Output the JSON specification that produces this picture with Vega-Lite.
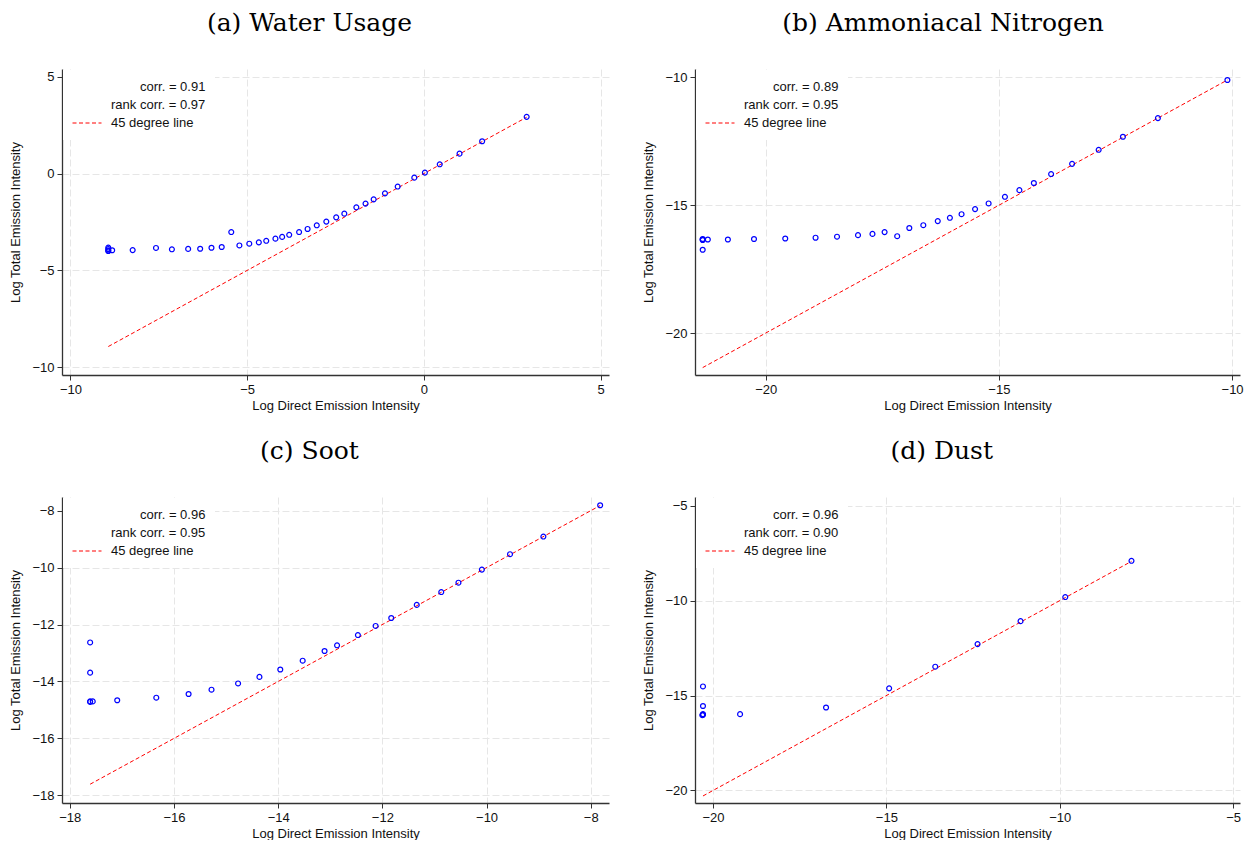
{
  "$schema": "https://vega.github.io/schema/vega-lite/v6.json",
  "background": "white",
  "padding": {"left": 9, "top": 11, "right": 0, "bottom": 0},
  "datasets": {
    "pts": [
      {"p":"a","x":-8.93,"y":-3.82},{"p":"a","x":-8.93,"y":-3.90},{"p":"a","x":-8.93,"y":-3.97},{"p":"a","x":-8.93,"y":-4.00},{"p":"a","x":-8.82,"y":-3.96},{"p":"a","x":-8.24,"y":-3.95},{"p":"a","x":-7.58,"y":-3.84},{"p":"a","x":-7.13,"y":-3.91},{"p":"a","x":-6.67,"y":-3.89},{"p":"a","x":-6.33,"y":-3.88},{"p":"a","x":-6.01,"y":-3.83},{"p":"a","x":-5.72,"y":-3.79},{"p":"a","x":-5.45,"y":-3.02},{"p":"a","x":-5.22,"y":-3.71},{"p":"a","x":-4.94,"y":-3.62},{"p":"a","x":-4.67,"y":-3.55},{"p":"a","x":-4.46,"y":-3.47},{"p":"a","x":-4.20,"y":-3.36},{"p":"a","x":-4.01,"y":-3.27},{"p":"a","x":-3.81,"y":-3.16},{"p":"a","x":-3.53,"y":-3.02},{"p":"a","x":-3.29,"y":-2.86},{"p":"a","x":-3.03,"y":-2.67},{"p":"a","x":-2.76,"y":-2.48},{"p":"a","x":-2.48,"y":-2.26},{"p":"a","x":-2.25,"y":-2.07},{"p":"a","x":-1.91,"y":-1.74},{"p":"a","x":-1.65,"y":-1.55},{"p":"a","x":-1.42,"y":-1.33},{"p":"a","x":-1.10,"y":-1.02},{"p":"a","x":-0.74,"y":-0.67},{"p":"a","x":-0.27,"y":-0.21},{"p":"a","x":0.03,"y":0.05},{"p":"a","x":0.45,"y":0.48},{"p":"a","x":1.01,"y":1.03},{"p":"a","x":1.65,"y":1.67},{"p":"a","x":2.91,"y":2.93},
      {"p":"b","x":-21.35,"y":-16.32},{"p":"b","x":-21.35,"y":-16.34},{"p":"b","x":-21.35,"y":-16.36},{"p":"b","x":-21.35,"y":-16.74},{"p":"b","x":-21.24,"y":-16.34},{"p":"b","x":-20.81,"y":-16.34},{"p":"b","x":-20.25,"y":-16.32},{"p":"b","x":-19.58,"y":-16.30},{"p":"b","x":-18.93,"y":-16.27},{"p":"b","x":-18.47,"y":-16.23},{"p":"b","x":-18.02,"y":-16.17},{"p":"b","x":-17.71,"y":-16.12},{"p":"b","x":-17.45,"y":-16.05},{"p":"b","x":-17.18,"y":-16.21},{"p":"b","x":-16.92,"y":-15.89},{"p":"b","x":-16.62,"y":-15.78},{"p":"b","x":-16.31,"y":-15.62},{"p":"b","x":-16.05,"y":-15.49},{"p":"b","x":-15.80,"y":-15.35},{"p":"b","x":-15.51,"y":-15.15},{"p":"b","x":-15.22,"y":-14.93},{"p":"b","x":-14.87,"y":-14.67},{"p":"b","x":-14.56,"y":-14.41},{"p":"b","x":-14.25,"y":-14.13},{"p":"b","x":-13.88,"y":-13.78},{"p":"b","x":-13.43,"y":-13.38},{"p":"b","x":-12.86,"y":-12.83},{"p":"b","x":-12.34,"y":-12.32},{"p":"b","x":-11.59,"y":-11.59},{"p":"b","x":-10.10,"y":-10.10},
      {"p":"c","x":-17.61,"y":-12.63},{"p":"c","x":-17.61,"y":-13.69},{"p":"c","x":-17.61,"y":-14.70},{"p":"c","x":-17.61,"y":-14.72},{"p":"c","x":-17.56,"y":-14.70},{"p":"c","x":-17.09,"y":-14.66},{"p":"c","x":-16.34,"y":-14.57},{"p":"c","x":-15.72,"y":-14.44},{"p":"c","x":-15.28,"y":-14.29},{"p":"c","x":-14.77,"y":-14.07},{"p":"c","x":-14.36,"y":-13.84},{"p":"c","x":-13.96,"y":-13.58},{"p":"c","x":-13.53,"y":-13.27},{"p":"c","x":-13.11,"y":-12.93},{"p":"c","x":-12.87,"y":-12.73},{"p":"c","x":-12.47,"y":-12.37},{"p":"c","x":-12.13,"y":-12.05},{"p":"c","x":-11.83,"y":-11.77},{"p":"c","x":-11.34,"y":-11.31},{"p":"c","x":-10.87,"y":-10.86},{"p":"c","x":-10.54,"y":-10.53},{"p":"c","x":-10.09,"y":-10.07},{"p":"c","x":-9.55,"y":-9.53},{"p":"c","x":-8.91,"y":-8.91},{"p":"c","x":-7.82,"y":-7.81},
      {"p":"d","x":-20.29,"y":-14.52},{"p":"d","x":-20.29,"y":-15.55},{"p":"d","x":-20.29,"y":-16.01},{"p":"d","x":-20.29,"y":-15.98},{"p":"d","x":-20.31,"y":-16.03},{"p":"d","x":-19.22,"y":-15.98},{"p":"d","x":-16.74,"y":-15.63},{"p":"d","x":-14.92,"y":-14.62},{"p":"d","x":-13.59,"y":-13.48},{"p":"d","x":-12.37,"y":-12.29},{"p":"d","x":-11.13,"y":-11.08},{"p":"d","x":-9.84,"y":-9.81},{"p":"d","x":-7.93,"y":-7.90}
    ],
    "lines": [
      {"p":"a","series":"45 degree line","x":-8.93,"y":-8.93},{"p":"a","series":"45 degree line","x":2.91,"y":2.91},
      {"p":"b","series":"45 degree line","x":-21.35,"y":-21.35},{"p":"b","series":"45 degree line","x":-10.10,"y":-10.10},
      {"p":"c","series":"45 degree line","x":-17.61,"y":-17.61},{"p":"c","series":"45 degree line","x":-7.82,"y":-7.82},
      {"p":"d","series":"45 degree line","x":-20.29,"y":-20.29},{"p":"d","series":"45 degree line","x":-7.93,"y":-7.93}
    ]
  },
  "vconcat": [
    {
      "hconcat": [
        {
          "width": 547, "height": 306,
          "title": "(a) Water Usage",
          "layer": [
            {
              "data": {"name": "lines"},
              "transform": [{"filter": "datum.p === 'a'"}],
              "mark": {"type": "line", "strokeDash": [4, 2.5], "strokeWidth": 1},
              "encoding": {
                "x": {"field": "x", "type": "quantitative", "scale": {"domain": [-10.24, 5.24], "nice": false, "zero": false}, "axis": {"values": [-10, -5, 0, 5], "title": "Log Direct Emission Intensity"}},
                "y": {"field": "y", "type": "quantitative", "scale": {"domain": [-10.4, 5.4], "nice": false, "zero": false}, "axis": {"values": [-10, -5, 0, 5], "title": "Log Total Emission Intensity"}},
                "color": {"field": "series", "type": "nominal", "scale": {"domain": ["corr. = 0.91", "rank corr. = 0.97", "45 degree line"], "range": ["rgba(0,0,0,0)", "rgba(0,0,0,0)", "#ff0000"]}, "legend": {"title": null, "encode": {"labels": {"update": {"dx": {"signal": "datum.index === 0 ? 29 : 0"}}}}}}
              }
            },
            {
              "data": {"name": "pts"},
              "transform": [{"filter": "datum.p === 'a'"}],
              "mark": {"type": "point", "shape": "circle", "filled": false, "color": "#0000ff", "size": 24, "strokeWidth": 1.2, "opacity": 1},
              "encoding": {
                "x": {"field": "x", "type": "quantitative"},
                "y": {"field": "y", "type": "quantitative"}
              }
            }
          ]
        },
        {
          "width": 545, "height": 306,
          "title": "(b) Ammoniacal Nitrogen",
          "layer": [
            {
              "data": {"name": "lines"},
              "transform": [{"filter": "datum.p === 'b'"}],
              "mark": {"type": "line", "strokeDash": [4, 2.5], "strokeWidth": 1},
              "encoding": {
                "x": {"field": "x", "type": "quantitative", "scale": {"domain": [-21.515, -9.83], "nice": false, "zero": false}, "axis": {"values": [-20, -15, -10], "title": "Log Direct Emission Intensity"}},
                "y": {"field": "y", "type": "quantitative", "scale": {"domain": [-21.64, -9.67], "nice": false, "zero": false}, "axis": {"values": [-20, -15, -10], "title": "Log Total Emission Intensity"}},
                "color": {"field": "series", "type": "nominal", "scale": {"domain": ["corr. = 0.89", "rank corr. = 0.95", "45 degree line"], "range": ["rgba(0,0,0,0)", "rgba(0,0,0,0)", "#ff0000"]}, "legend": {"title": null, "encode": {"labels": {"update": {"dx": {"signal": "datum.index === 0 ? 29 : 0"}}}}}}
              }
            },
            {
              "data": {"name": "pts"},
              "transform": [{"filter": "datum.p === 'b'"}],
              "mark": {"type": "point", "shape": "circle", "filled": false, "color": "#0000ff", "size": 24, "strokeWidth": 1.2, "opacity": 1},
              "encoding": {
                "x": {"field": "x", "type": "quantitative"},
                "y": {"field": "y", "type": "quantitative"}
              }
            }
          ]
        }
      ],
      "spacing": 33,
      "resolve": {"scale": {"color": "independent"}, "legend": {"color": "independent"}}
    },
    {
      "hconcat": [
        {
          "width": 547, "height": 306,
          "title": "(c) Soot",
          "layer": [
            {
              "data": {"name": "lines"},
              "transform": [{"filter": "datum.p === 'c'"}],
              "mark": {"type": "line", "strokeDash": [4, 2.5], "strokeWidth": 1},
              "encoding": {
                "x": {"field": "x", "type": "quantitative", "scale": {"domain": [-18.15, -7.65], "nice": false, "zero": false}, "axis": {"values": [-18, -16, -14, -12, -10, -8], "title": "Log Direct Emission Intensity"}},
                "y": {"field": "y", "type": "quantitative", "scale": {"domain": [-18.27, -7.52], "nice": false, "zero": false}, "axis": {"values": [-18, -16, -14, -12, -10, -8], "title": "Log Total Emission Intensity"}},
                "color": {"field": "series", "type": "nominal", "scale": {"domain": ["corr. = 0.96", "rank corr. = 0.95", "45 degree line"], "range": ["rgba(0,0,0,0)", "rgba(0,0,0,0)", "#ff0000"]}, "legend": {"title": null, "encode": {"labels": {"update": {"dx": {"signal": "datum.index === 0 ? 29 : 0"}}}}}}
              }
            },
            {
              "data": {"name": "pts"},
              "transform": [{"filter": "datum.p === 'c'"}],
              "mark": {"type": "point", "shape": "circle", "filled": false, "color": "#0000ff", "size": 24, "strokeWidth": 1.2, "opacity": 1},
              "encoding": {
                "x": {"field": "x", "type": "quantitative"},
                "y": {"field": "y", "type": "quantitative"}
              }
            }
          ]
        },
        {
          "width": 545, "height": 306,
          "title": "(d) Dust",
          "layer": [
            {
              "data": {"name": "lines"},
              "transform": [{"filter": "datum.p === 'd'"}],
              "mark": {"type": "line", "strokeDash": [4, 2.5], "strokeWidth": 1},
              "encoding": {
                "x": {"field": "x", "type": "quantitative", "scale": {"domain": [-20.52, -4.8], "nice": false, "zero": false}, "axis": {"values": [-20, -15, -10, -5], "title": "Log Direct Emission Intensity"}},
                "y": {"field": "y", "type": "quantitative", "scale": {"domain": [-20.66, -4.54], "nice": false, "zero": false}, "axis": {"values": [-20, -15, -10, -5], "title": "Log Total Emission Intensity"}},
                "color": {"field": "series", "type": "nominal", "scale": {"domain": ["corr. = 0.96", "rank corr. = 0.90", "45 degree line"], "range": ["rgba(0,0,0,0)", "rgba(0,0,0,0)", "#ff0000"]}, "legend": {"title": null, "encode": {"labels": {"update": {"dx": {"signal": "datum.index === 0 ? 29 : 0"}}}}}}
              }
            },
            {
              "data": {"name": "pts"},
              "transform": [{"filter": "datum.p === 'd'"}],
              "mark": {"type": "point", "shape": "circle", "filled": false, "color": "#0000ff", "size": 24, "strokeWidth": 1.2, "opacity": 1},
              "encoding": {
                "x": {"field": "x", "type": "quantitative"},
                "y": {"field": "y", "type": "quantitative"}
              }
            }
          ]
        }
      ],
      "spacing": 33,
      "resolve": {"scale": {"color": "independent"}, "legend": {"color": "independent"}}
    }
  ],
  "spacing": 27,
  "resolve": {"scale": {"color": "independent"}, "legend": {"color": "independent"}},
  "config": {
    "view": {"stroke": null},
    "font": "Liberation Sans",
    "axis": {
      "domainColor": "#333333", "domainWidth": 1.3,
      "tickColor": "#333333", "tickSize": 5, "tickWidth": 1,
      "labelFont": "Liberation Sans", "labelFontSize": 13, "labelColor": "#111111", "labelPadding": 3,
      "titleFont": "Liberation Sans", "titleFontSize": 13, "titleFontWeight": "normal", "titleColor": "#111111",
      "grid": true, "gridColor": "#e6e6e6", "gridDash": [7, 3], "gridWidth": 1
    },
    "axisY": {"titlePadding": 9},
    "axisX": {"titlePadding": 3},
    "title": {"font": "DejaVu Serif", "fontSize": 25, "fontWeight": "normal", "anchor": "middle", "frame": "bounds", "baseline": "alphabetic", "offset": 33, "color": "#000000"},
    "legend": {
      "orient": "none", "legendX": 1, "legendY": 1, "padding": 9, "fillColor": "white",
      "labelFont": "Liberation Sans", "labelFontSize": 13, "labelColor": "#111111", "labelOffset": 9,
      "symbolType": "stroke", "symbolSize": 841, "symbolStrokeWidth": 1, "symbolDash": [4, 2.5],
      "clipHeight": 16, "rowPadding": 2
    }
  }
}
